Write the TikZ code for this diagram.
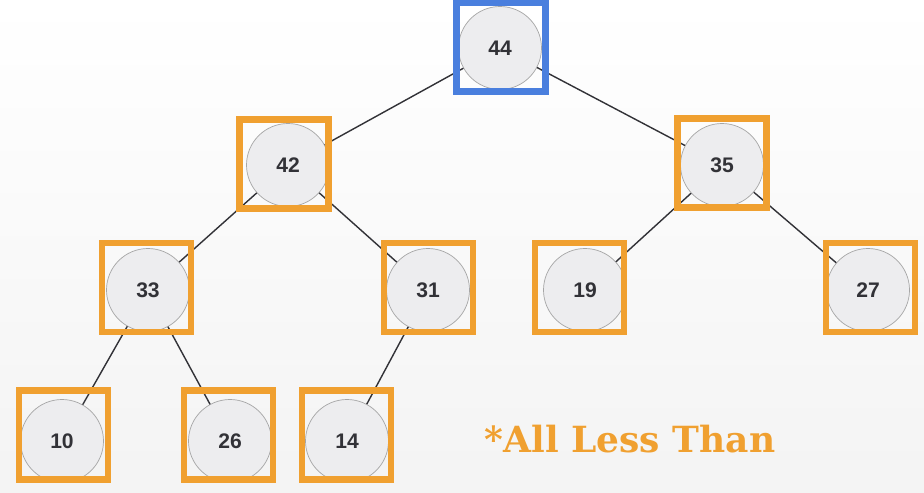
\documentclass[tikz,border=0pt]{standalone}
\usepackage{fontspec}
\setmainfont{Liberation Sans}
\newfontfamily\notefont{DejaVu Serif}
\usepackage{tikz}

\definecolor{heaporange}{RGB}{240,160,48}
\definecolor{heapblue}{RGB}{74,127,222}
\definecolor{heapgray}{RGB}{237,237,239}
\definecolor{heaptext}{RGB}{50,50,55}

\tikzset{
  heapnode/.style={shape=circle, draw=gray!70, fill=heapgray, minimum size=1.66cm, inner sep=0pt, font=\bfseries\fontsize{12}{14}\selectfont, text=heaptext},
  markbox/.style={shape=rectangle, draw=heaporange, line width=3.6pt, minimum size=1.78cm, inner sep=0pt},
  rootbox/.style={markbox, draw=heapblue}
}

\begin{document}
\begin{tikzpicture}
\shade[top color=white, bottom color=gray!9] (0,0) rectangle (18.48,-9.84);
\useasboundingbox (0,0) rectangle (18.48,-9.84);

\node[heapnode] (n44) at (10.00, -0.96) {44};
\node[heapnode] (n42) at (5.76, -3.30) {42};
\node[heapnode] (n35) at (14.44, -3.30) {35};
\node[heapnode] (n33) at (2.96, -5.80) {33};
\node[heapnode] (n31) at (8.56, -5.80) {31};
\node[heapnode] (n19) at (11.70, -5.80) {19};
\node[heapnode] (n27) at (17.36, -5.80) {27};
\node[heapnode] (n10) at (1.24, -8.82) {10};
\node[heapnode] (n26) at (4.60, -8.82) {26};
\node[heapnode] (n14) at (6.94, -8.82) {14};

\path[-, thick, heaptext] (n44) edge (n42);\path[-, thick, heaptext] (n44) edge (n35);
\path[-, thick, heaptext] (n42) edge (n33);\path[-, thick, heaptext] (n42) edge (n31);
\path[-, thick, heaptext] (n35) edge (n19);\path[-, thick, heaptext] (n35) edge (n27);
\path[-, thick, heaptext] (n33) edge (n10);\path[-, thick, heaptext] (n33) edge (n26);
\path[-, thick, heaptext] (n31) edge (n14);

\node[rootbox] (b44) at (10.02, -0.94) {};
\node[markbox] (b42) at (5.68, -3.28) {};
\node[markbox] (b35) at (14.44, -3.26) {};
\node[markbox] (b33) at (2.93, -5.75) {};
\node[markbox] (b31) at (8.57, -5.75) {};
\node[markbox] (b19) at (11.59, -5.75) {};
\node[markbox] (b27) at (17.41, -5.75) {};
\node[markbox] (b10) at (1.27, -8.70) {};
\node[markbox] (b26) at (4.57, -8.70) {};
\node[markbox] (b14) at (6.93, -8.70) {};

\node[text=heaporange, font=\notefont\bfseries\fontsize{20.5}{24}\selectfont] (note) at (12.60, -8.78) {*All Less Than};

\end{tikzpicture}
\end{document}
